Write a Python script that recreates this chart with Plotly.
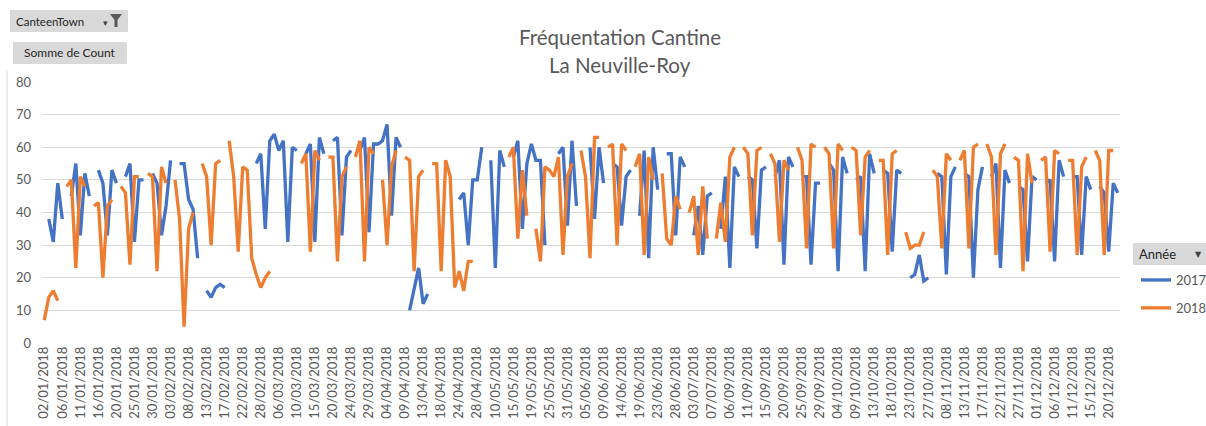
import plotly.graph_objects as go

N_ = None
tick_labels = ["02/01/2018", "06/01/2018", "11/01/2018", "16/01/2018", "20/01/2018", "25/01/2018",
               "30/01/2018", "03/02/2018", "08/02/2018", "13/02/2018", "17/02/2018", "22/02/2018",
               "28/02/2018", "06/03/2018", "10/03/2018", "15/03/2018", "20/03/2018", "24/03/2018",
               "29/03/2018", "04/04/2018", "09/04/2018", "13/04/2018", "18/04/2018", "24/04/2018",
               "28/04/2018", "10/05/2018", "15/05/2018", "19/05/2018", "25/05/2018", "31/05/2018",
               "05/06/2018", "09/06/2018", "14/06/2018", "19/06/2018", "23/06/2018", "28/06/2018",
               "03/07/2018", "07/07/2018", "06/09/2018", "11/09/2018", "15/09/2018", "20/09/2018",
               "25/09/2018", "29/09/2018", "04/10/2018", "09/10/2018", "13/10/2018", "18/10/2018",
               "23/10/2018", "27/10/2018", "08/11/2018", "13/11/2018", "17/11/2018", "22/11/2018",
               "27/11/2018", "01/12/2018", "06/12/2018", "11/12/2018", "15/12/2018", "20/12/2018"]
label_step = 4

count_2017 = [
    N_, 38, 31, 49, 38, N_,
    45, 55, 33, 52, 45, N_,
    53, 49, 33, 53, 49, N_,
    51, 55, 31, 50, 50, N_,
    52, 49, 33, 42, 56, N_,
    55, 55, 44, 41, 26, N_,
    16, 14, 17, 18, 17, N_, N_, N_, N_, N_, N_,
    55, 58, 35, 62, 64, 59, 62, 31, 60, 59, N_,
    58, 61, 31, 63, 58, N_,
    62, 63, 33, 57, 59, N_,
    59, 63, 34, 61, 61, 62, 67, 39, 63, 60, N_,
    10, 16, 23, 12, 15, N_, N_, N_, N_, N_, N_,
    44, 46, 30, 50, 50, 60, N_,
    56, 23, 59, 54, N_,
    57, 62, 35, 55, 61, 56, 56, 30, N_, N_,
    58, 60, 36, 62, 42, N_, N_,
    60, 38, 60, 49, N_,
    55, 54, 36, 51, 53, N_,
    39, 59, 26, 60, 47, N_,
    58, 58, 33, 57, 54, N_,
    33, 42, 27, 45, 46, N_,
    35, 51, 23, 54, 51, N_,
    51, 50, 29, 53, 54, N_,
    51, 56, 24, 57, 54, N_,
    51, 51, 24, 49, 49, N_,
    55, 53, 22, 57, 52, N_,
    50, 51, 22, 58, 52, N_,
    53, 52, 28, 53, 52, N_,
    20, 21, 27, 19, 20, N_,
    52, 51, 21, 51, 54, N_,
    52, 51, 20, 47, 54, N_,
    51, 55, 23, 53, 49, N_,
    48, 47, 25, 51, 50, N_,
    49, 50, 25, 56, 51, N_,
    51, 51, 27, 51, 47, N_,
    48, 46, 28, 49, 46,
]

count_2018 = [
    7, 14, 16, 13, N_,
    48, 50, 23, 51, 48, N_,
    42, 43, 20, 42, 44, N_,
    48, 46, 24, 51, 51, N_,
    52, 51, 22, 54, 49, N_,
    50, 38, 5, 35, 40, N_,
    55, 51, 30, 55, 56, N_,
    62, 51, 28, 54, 53, 26, 21, 17, 20, 22,
    N_, N_, N_, N_, N_, N_,
    55, 58, 28, 59, 56, N_,
    57, 57, 25, 51, 54, N_,
    57, 62, 25, 60, 58, N_,
    50, 30, 54, 59, N_,
    57, 56, 22, 51, 53, N_,
    55, 55, 22, 56, 51, 17, 22, 16, 25, 25,
    N_, N_, N_, N_, N_, N_, N_,
    57, 60, 32, 53, 39, N_,
    35, 25, 54, 53, 51, 57, 27, 51, 55, N_,
    59, 51, 26, 63, 63, N_,
    60, 61, 30, 61, 59, N_,
    54, 58, 27, 57, 50, N_,
    52, 32, 30, 45, 41, N_,
    40, 45, 27, 48, 32, N_,
    32, 43, 31, 57, 60, N_,
    60, 58, 33, 59, 60, N_,
    58, 55, 31, 56, 53, N_,
    60, 56, 29, 61, 60, N_,
    60, 58, 29, 61, 59, N_,
    60, 59, 33, 57, 59, N_,
    56, 56, 27, 58, 59, N_,
    34, 29, 30, 30, 34, N_,
    53, 51, 29, 58, 56, N_,
    56, 59, 29, 60, 61, N_,
    61, 57, 27, 58, 61, N_,
    57, 56, 22, 58, 49, N_,
    56, 57, 28, 59, 58, N_,
    56, 56, 27, 54, 57, N_,
    59, 56, 27, 59, 59, N_,
]

n_cat = len(count_2017)
cat_index = list(range(n_cat))

W, H = 1206, 426
L, R, T, B = 42, 1120, 82, 343


def px(xp):
    return (xp - L) / (R - L)


def py(yp):
    return (B - yp) / (B - T)


FONT = "Lato"
GREY = "#595959"

fig = go.Figure()
fig.add_trace(go.Scatter(x=cat_index[:len(count_2017)], y=count_2017, mode="lines", name="2017",
                         line=dict(color="#4472C4", width=3.3), legendgroup="a", connectgaps=False))
fig.add_trace(go.Scatter(x=cat_index[:len(count_2018)], y=count_2018, mode="lines", name="2018",
                         line=dict(color="#ED7D31", width=3.3), legendgroup="b", connectgaps=False))

shapes = []
annotations = []

# title
for txt, yy in (("Fréquentation Cantine", 37), ("La Neuville-Roy", 65)):
    annotations.append(dict(text=txt, x=px(620), y=py(yy), xref="paper", yref="paper",
                            xanchor="center", yanchor="middle", showarrow=False,
                            font=dict(family=FONT, size=20.5, color=GREY)))

# pivot field buttons
btn_fill = "#D9D9D9"
shapes.append(dict(type="rect", xref="paper", yref="paper", x0=px(10), x1=px(128), y0=py(32), y1=py(10),
                   fillcolor=btn_fill, line=dict(width=0), layer="above"))
annotations.append(dict(text="CanteenTown", x=px(14), y=py(21), xref="paper", yref="paper",
                        xanchor="left", yanchor="middle", showarrow=False,
                        font=dict(family=FONT, size=11.5, color="#262626")))
annotations.append(dict(text="▾", x=px(105), y=py(23), xref="paper", yref="paper",
                        xanchor="center", yanchor="middle", showarrow=False,
                        font=dict(family="DejaVu Sans", size=9, color="#404040")))
funnel = [(110, 14), (122, 14), (117.5, 20), (117.5, 27), (114.5, 27), (114.5, 20)]
path = "M " + " L ".join(f"{px(a):.5f},{py(b):.5f}" for a, b in funnel) + " Z"
shapes.append(dict(type="path", xref="paper", yref="paper", path=path,
                   fillcolor="#595959", line=dict(width=0), layer="above"))

shapes.append(dict(type="rect", xref="paper", yref="paper", x0=px(13), x1=px(127), y0=py(64), y1=py(42),
                   fillcolor=btn_fill, line=dict(width=0), layer="above"))
annotations.append(dict(text="Somme de Count", x=px(70), y=py(53), xref="paper", yref="paper",
                        xanchor="center", yanchor="middle", showarrow=False,
                        font=dict(family=FONT, size=12, color="#262626")))

# legend header "Année"
shapes.append(dict(type="rect", xref="paper", yref="paper", x0=px(1133), x1=px(1206), y0=py(265), y1=py(243),
                   fillcolor=btn_fill, line=dict(width=0), layer="above"))
annotations.append(dict(text="Année", x=px(1137), y=py(254), xref="paper", yref="paper",
                        xanchor="left", yanchor="middle", showarrow=False,
                        font=dict(family=FONT, size=13, color="#262626")))
annotations.append(dict(text="▼", x=px(1198), y=py(254), xref="paper", yref="paper",
                        xanchor="center", yanchor="middle", showarrow=False,
                        font=dict(family="DejaVu Sans", size=8, color="#404040")))

# left border of the chart area
shapes.append(dict(type="line", xref="paper", yref="paper", x0=px(7), x1=px(7), y0=py(70), y1=py(426),
                   line=dict(color="#D9D9D9", width=1)))

fig.update_layout(
    width=W, height=H,
    margin=dict(l=L, r=W - R, t=T, b=H - B, autoexpand=False),
    paper_bgcolor="white", plot_bgcolor="white",
    font=dict(family=FONT, color=GREY),
    showlegend=True,
    legend=dict(x=px(1136), y=py(265), xanchor="left", yanchor="top",
                font=dict(family=FONT, size=13, color=GREY),
                traceorder="grouped", tracegroupgap=8, bgcolor="rgba(0,0,0,0)"),
    shapes=shapes, annotations=annotations,
    xaxis=dict(range=[-0.5, n_cat - 0.5], tickmode="array",
               tickvals=[i * label_step for i in range(len(tick_labels))], ticktext=tick_labels,
               tickangle=-90, showgrid=False, zeroline=False, showline=False, ticks="",
               tickfont=dict(family=FONT, size=13, color=GREY)),
    yaxis=dict(range=[0, 80], dtick=10, showgrid=True, gridcolor="#D9D9D9", gridwidth=1,
               zeroline=False, showline=False, ticks="", ticklabelstandoff=10,
               tickfont=dict(family=FONT, size=13, color=GREY)),
)

fig.write_html("out.html", config={"displayModeBar": False},
               post_script="document.body.style.margin='0';document.body.style.overflow='hidden';")
